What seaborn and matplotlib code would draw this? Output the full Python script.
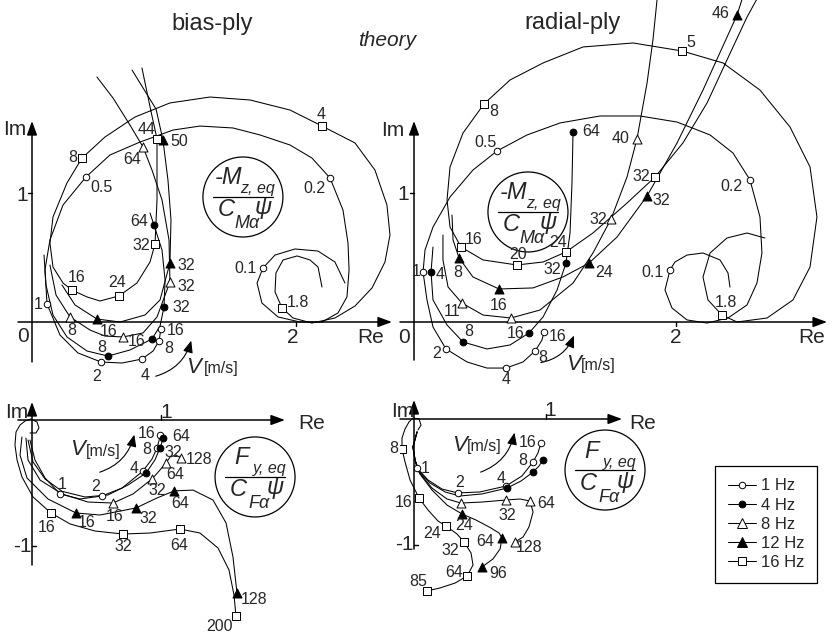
import matplotlib
matplotlib.use("Agg")
import matplotlib.pyplot as plt
import pandas as pd
import seaborn as sns
from matplotlib.lines import Line2D
from matplotlib.patches import Ellipse, FancyArrowPatch

sns.set_style("white")
plt.rcParams["font.family"] = ["Liberation Sans", "DejaVu Sans"]

# ---------------------------------------------------------------------------
# Frequency-response loci (Re, Im, speed label V in m/s; '' = plain path point)
# ---------------------------------------------------------------------------
FREQS = ["1 Hz", "4 Hz", "8 Hz", "12 Hz", "16 Hz"]

# bias-ply, aligning moment
TL_1HZ = [(2.371, 0.302, ""), (2.295, 0.465, ""), (2.167, 0.550, ""), (1.992, 0.566, ""),
          (1.841, 0.519, ""), (1.750, 0.419, "0.1"), (1.705, 0.302, ""), (1.742, 0.147, ""),
          (1.864, 0.039, ""), (2.030, 0.000, ""), (2.197, 0.000, ""), (2.318, 0.070, ""),
          (2.386, 0.194, ""), (2.402, 0.403, ""), (2.394, 0.612, ""), (2.356, 0.868, ""),
          (2.258, 1.116, "0.2"), (2.121, 1.271, ""), (1.955, 1.372, ""), (1.727, 1.450, ""),
          (1.523, 1.504, ""), (1.273, 1.519, ""), (1.068, 1.488, ""), (0.818, 1.395, ""),
          (0.591, 1.295, ""), (0.409, 1.124, "0.5"), (0.235, 0.907, ""), (0.136, 0.636, ""),
          (0.098, 0.403, ""), (0.114, 0.140, "1"), (0.212, -0.101, ""), (0.348, -0.240, ""),
          (0.523, -0.310, "2"), (0.682, -0.318, ""), (0.833, -0.287, "4"), (0.917, -0.225, ""),
          (0.962, -0.147, "8"), (0.977, -0.054, "16")]
TL_4HZ = [(0.091, 0.519, ""), (0.106, 0.287, ""), (0.159, 0.054, ""), (0.265, -0.116, ""),
          (0.417, -0.225, ""), (0.576, -0.264, "8"), (0.742, -0.217, ""), (0.909, -0.132, "16"),
          (0.970, -0.031, ""), (1.000, 0.116, "32"), (1.008, 0.326, ""), (0.985, 0.558, ""),
          (0.924, 0.752, "64"), (0.894, 0.845, "")]
TL_8HZ = [(0.136, 0.442, ""), (0.182, 0.209, ""), (0.288, 0.039, "8"), (0.439, -0.062, ""),
          (0.553, -0.109, ""), (0.689, -0.116, "16"), (0.841, -0.085, ""), (0.947, 0.039, ""),
          (1.045, 0.310, "32"), (1.038, 0.636, ""), (0.985, 0.946, ""), (0.909, 1.178, ""),
          (0.841, 1.357, "64"), (0.742, 1.527, ""), (0.614, 1.736, ""), (0.492, 1.899, "")]
TL_12HZ = [(0.227, 0.287, ""), (0.326, 0.132, ""), (0.492, 0.023, "16"), (0.667, 0.000, ""),
           (0.856, 0.054, ""), (0.970, 0.171, ""), (1.045, 0.457, "32"), (1.053, 0.791, ""),
           (1.030, 1.101, ""), (0.992, 1.411, "50"), (0.940, 1.650, ""), (0.758, 1.953, "")]
TL_16HZ = [(2.197, 0.271, ""), (2.167, 0.426, ""), (2.106, 0.481, ""), (2.008, 0.512, ""),
           (1.902, 0.481, ""), (1.848, 0.380, ""), (1.841, 0.233, ""), (1.894, 0.109, "1.8"),
           (1.977, 0.031, ""), (2.121, -0.008, ""), (2.295, 0.031, ""), (2.447, 0.124, ""),
           (2.576, 0.264, ""), (2.674, 0.465, ""), (2.712, 0.674, ""), (2.689, 0.907, ""),
           (2.598, 1.178, ""), (2.447, 1.388, ""), (2.197, 1.519, "4"), (1.955, 1.643, ""),
           (1.652, 1.721, ""), (1.348, 1.744, ""), (1.045, 1.698, ""), (0.780, 1.589, ""),
           (0.553, 1.434, ""), (0.379, 1.271, "8"), (0.265, 1.078, ""), (0.159, 0.814, ""),
           (0.136, 0.612, ""), (0.159, 0.426, ""), (0.235, 0.302, ""), (0.303, 0.248, "16"),
           (0.417, 0.194, ""), (0.515, 0.163, ""), (0.659, 0.202, "24"), (0.795, 0.302, ""),
           (0.894, 0.465, ""), (0.932, 0.605, "32"), (0.947, 0.946, ""), (0.947, 1.217, ""),
           (0.947, 1.419, "44"), (0.900, 1.640, ""), (0.833, 1.969, "")]

# radial-ply, aligning moment
TR_1HZ = [(2.412, 0.271, ""), (2.397, 0.380, ""), (2.336, 0.481, ""), (2.206, 0.535, ""),
          (2.084, 0.519, ""), (1.992, 0.465, ""), (1.954, 0.403, "0.1"), (1.916, 0.248, ""),
          (1.969, 0.109, ""), (2.084, 0.016, ""), (2.237, -0.008, ""), (2.397, 0.031, ""),
          (2.542, 0.132, ""), (2.618, 0.302, ""), (2.656, 0.535, ""), (2.641, 0.814, ""),
          (2.565, 1.101, "0.2"), (2.435, 1.310, ""), (2.260, 1.450, ""), (2.008, 1.550, ""),
          (1.725, 1.597, ""), (1.420, 1.597, ""), (1.115, 1.543, ""), (0.863, 1.450, ""),
          (0.634, 1.326, "0.5"), (0.450, 1.178, ""), (0.275, 0.969, ""), (0.145, 0.736, ""),
          (0.084, 0.558, ""), (0.069, 0.388, "1"), (0.099, 0.171, ""), (0.145, -0.039, ""),
          (0.244, -0.209, "2"), (0.405, -0.310, ""), (0.557, -0.357, ""), (0.702, -0.357, "4"),
          (0.832, -0.310, ""), (0.924, -0.225, "8"), (0.977, -0.140, ""), (0.992, -0.078, "16")]
TR_4HZ = [(0.145, 0.581, ""), (0.130, 0.388, "4"), (0.145, 0.171, ""), (0.252, -0.023, ""),
          (0.374, -0.155, "8"), (0.557, -0.209, ""), (0.733, -0.178, ""), (0.878, -0.085, "16"),
          (0.985, 0.039, ""), (1.092, 0.248, ""), (1.160, 0.457, "32"), (1.191, 0.690, ""),
          (1.206, 1.078, ""), (1.214, 1.473, "64")]
TR_8HZ = [(0.221, 0.674, ""), (0.221, 0.481, ""), (0.260, 0.271, ""), (0.366, 0.147, "11"),
          (0.527, 0.054, ""), (0.740, 0.031, "16"), (0.962, 0.093, ""), (1.214, 0.302, ""),
          (1.366, 0.535, ""), (1.504, 0.798, "32"), (1.626, 1.124, ""), (1.702, 1.419, "40"),
          (1.779, 1.853, ""), (1.824, 2.186, ""), (1.863, 2.574, "")]
TR_12HZ = [(0.290, 0.829, ""), (0.298, 0.636, ""), (0.344, 0.496, "8"), (0.450, 0.349, ""),
           (0.649, 0.256, "16"), (0.908, 0.264, ""), (1.137, 0.349, ""), (1.336, 0.457, "24"),
           (1.550, 0.659, ""), (1.779, 0.977, "32"), (2.008, 1.388, ""), (2.206, 1.798, ""),
           (2.466, 2.380, "46"), (2.527, 2.574, "")]
TR_16HZ = [(2.679, 0.651, ""), (2.542, 0.690, ""), (2.389, 0.651, ""), (2.260, 0.535, ""),
           (2.206, 0.349, ""), (2.244, 0.171, ""), (2.351, 0.054, "1.8"), (2.466, 0.000, ""),
           (2.695, 0.031, ""), (2.893, 0.171, ""), (3.023, 0.426, ""), (3.076, 0.814, ""),
           (3.023, 1.202, ""), (2.870, 1.512, ""), (2.641, 1.798, ""), (2.359, 2.008, ""),
           (2.046, 2.101, "5"), (1.672, 2.163, ""), (1.290, 2.132, ""), (0.985, 2.008, ""),
           (0.733, 1.876, ""), (0.534, 1.690, "8"), (0.374, 1.465, ""), (0.275, 1.202, ""),
           (0.252, 0.946, ""), (0.275, 0.736, ""), (0.359, 0.581, "16"), (0.527, 0.481, ""),
           (0.786, 0.442, "20"), (0.985, 0.465, ""), (1.160, 0.543, "24"), (1.366, 0.690, ""),
           (1.626, 0.922, ""), (1.840, 1.124, "32"), (2.053, 1.388, ""), (2.237, 1.698, ""),
           (2.389, 2.031, ""), (2.542, 2.364, ""), (2.656, 2.574, "")]

# bias-ply, side force
BL_1HZ = [(-0.016, -0.159, ""), (0.023, -0.317, ""), (0.101, -0.460, ""), (0.217, -0.587, "1"),
          (0.372, -0.627, ""), (0.543, -0.603, "2"), (0.698, -0.540, ""), (0.860, -0.405, "4"),
          (0.930, -0.310, ""), (0.969, -0.222, "8"), (0.984, -0.167, ""), (0.992, -0.119, "16")]
BL_4HZ = [(-0.031, -0.159, ""), (0.008, -0.333, ""), (0.101, -0.468, ""), (0.233, -0.566, ""),
          (0.411, -0.611, ""), (0.589, -0.595, ""), (0.744, -0.516, ""), (0.884, -0.421, "16"),
          (0.953, -0.317, ""), (0.992, -0.222, "32"), (1.008, -0.175, ""), (1.016, -0.143, "64")]
BL_8HZ = [(-0.047, -0.143, ""), (-0.031, -0.317, ""), (0.062, -0.476, ""), (0.233, -0.587, ""),
          (0.434, -0.651, ""), (0.628, -0.659, "16"), (0.783, -0.587, ""), (0.930, -0.468, "32"),
          (0.992, -0.397, ""), (1.039, -0.341, "64"), (1.070, -0.294, ""), (1.116, -0.278, ""),
          (1.155, -0.302, "128")]
BL_12HZ = [(-0.078, -0.135, ""), (-0.093, -0.278, ""), (-0.039, -0.460, ""), (0.124, -0.627, ""),
           (0.341, -0.738, "16"), (0.527, -0.754, ""), (0.806, -0.698, "32"), (0.969, -0.619, ""),
           (1.101, -0.563, "64"), (1.248, -0.556, ""), (1.403, -0.635, ""), (1.504, -0.817, ""),
           (1.558, -1.087, ""), (1.589, -1.373, "128")]
BL_16HZ = [(-0.016, -0.103, ""), (0.031, -0.103, ""), (0.054, -0.063, ""), (0.039, -0.016, ""),
           (-0.008, 0.008, ""), (-0.054, -0.008, ""), (-0.093, -0.040, ""), (-0.124, -0.095, ""),
           (-0.132, -0.198, ""), (-0.116, -0.317, ""), (-0.078, -0.452, ""), (0.008, -0.611, ""),
           (0.147, -0.738, "16"), (0.295, -0.825, ""), (0.488, -0.881, ""), (0.705, -0.905, "32"),
           (0.915, -0.897, ""), (1.147, -0.865, "64"), (1.302, -0.897, ""), (1.442, -1.016, ""),
           (1.527, -1.190, ""), (1.566, -1.389, ""), (1.581, -1.556, "200")]

# radial-ply, side force
BR_1HZ = [(0.023, -0.103, ""), (-0.008, -0.222, ""), (0.008, -0.325, ""), (0.023, -0.389, "1"),
          (0.106, -0.484, ""), (0.212, -0.556, ""), (0.333, -0.587, "2"), (0.500, -0.579, ""),
          (0.697, -0.532, "4"), (0.818, -0.452, ""), (0.902, -0.341, "8"), (0.939, -0.270, ""),
          (0.962, -0.190, "16")]
BR_4HZ = [(0.023, -0.103, ""), (-0.008, -0.222, ""), (0.008, -0.325, ""), (0.030, -0.405, ""),
          (0.121, -0.508, ""), (0.235, -0.579, ""), (0.348, -0.611, ""), (0.515, -0.595, ""),
          (0.705, -0.548, "16"), (0.811, -0.492, ""), (0.902, -0.421, "32"), (0.947, -0.373, ""),
          (0.977, -0.325, "64")]
BR_8HZ = [(0.023, -0.103, ""), (-0.008, -0.222, ""), (0.008, -0.325, ""), (0.038, -0.421, ""),
          (0.136, -0.548, ""), (0.250, -0.635, ""), (0.356, -0.667, "16"), (0.515, -0.659, ""),
          (0.697, -0.643, "32"), (0.803, -0.635, ""), (0.879, -0.651, "64"), (0.902, -0.738, ""),
          (0.871, -0.857, ""), (0.826, -0.937, ""), (0.765, -0.976, "128")]
BR_12HZ = [(0.023, -0.103, ""), (-0.008, -0.222, ""), (0.008, -0.325, ""), (0.045, -0.437, ""),
           (0.136, -0.563, ""), (0.250, -0.683, ""), (0.364, -0.754, "24"), (0.470, -0.802, ""),
           (0.583, -0.865, ""), (0.644, -0.905, ""), (0.667, -0.944, "64"), (0.652, -1.032, ""),
           (0.598, -1.111, ""), (0.515, -1.175, "96")]
BR_16HZ = [(0.030, -0.087, ""), (0.053, -0.048, ""), (0.038, 0.000, ""), (-0.008, 0.008, ""),
           (-0.038, -0.024, ""), (-0.068, -0.079, ""), (-0.091, -0.151, ""), (-0.091, -0.238, "8"),
           (-0.068, -0.341, ""), (-0.030, -0.484, ""), (0.038, -0.627, "16"), (0.106, -0.722, ""),
           (0.182, -0.810, ""), (0.242, -0.849, "24"), (0.326, -0.913, ""), (0.379, -0.976, "32"),
           (0.432, -1.063, ""), (0.447, -1.159, ""), (0.402, -1.246, "64"), (0.311, -1.302, ""),
           (0.197, -1.341, ""), (0.098, -1.365, "85")]

PANELS = {
    "TL": dict(zip(FREQS, [TL_1HZ, TL_4HZ, TL_8HZ, TL_12HZ, TL_16HZ])),
    "TR": dict(zip(FREQS, [TR_1HZ, TR_4HZ, TR_8HZ, TR_12HZ, TR_16HZ])),
    "BL": dict(zip(FREQS, [BL_1HZ, BL_4HZ, BL_8HZ, BL_12HZ, BL_16HZ])),
    "BR": dict(zip(FREQS, [BR_1HZ, BR_4HZ, BR_8HZ, BR_12HZ, BR_16HZ])),
}

# speed-label placement (pixel offset from its marker: right, up)
LABEL_OFFSETS = {
    "TL": {
        "1 Hz": {"0.1": (-17, -1), "0.2": (-16, -10), "0.5": (16, -10), "1": (-9, -1),
                 "2": (-4, -15), "4": (3, -16), "8": (10, -8), "16": (15, -2)},
        "4 Hz": {"8": (-6, 9), "16": (-15, -2), "32": (17, 0), "64": (-15, 3)},
        "8 Hz": {"8": (2, -14), "32": (16, -4), "64": (-11, -13)},
        "12 Hz": {"16": (12, -12), "32": (16, -2), "50": (16, -2)},
        "16 Hz": {"1.8": (16, 5), "4": (-1, 12), "8": (-9, 1), "16": (5, 13), "24": (-2, 13),
                  "32": (-14, -2), "44": (-10, 9)},
    },
    "TR": {
        "1 Hz": {"0.1": (-17, -2), "0.2": (-19, -7), "0.5": (-12, 8), "1": (-7, 0),
                 "2": (-9, -5), "4": (0, -11), "8": (8, -6), "16": (14, -4)},
        "4 Hz": {"4": (9, -3), "8": (6, 10), "16": (-13, -1), "32": (-14, -6), "64": (18, 0)},
        "8 Hz": {"11": (-10, -8), "16": (-12, 13), "32": (-13, 0), "40": (-16, 0)},
        "12 Hz": {"8": (-1, -14), "24": (15, -9), "32": (14, -5), "46": (-16, 1)},
        "16 Hz": {"1.8": (4, 13), "5": (9, 8), "8": (10, -8), "16": (13, 8), "20": (1, 10),
                  "24": (-8, 9), "32": (-14, 1)},
    },
    "BL": {
        "1 Hz": {"1": (2, 9), "2": (-6, 9), "4": (-9, 3), "8": (-10, -2), "16": (-13, 1)},
        "4 Hz": {"32": (13, -5), "64": (18, 2)},
        "8 Hz": {"16": (2, -13), "32": (5, -12), "64": (9, -12), "128": (18, -1)},
        "12 Hz": {"16": (11, -10), "32": (12, -11), "64": (6, -13), "128": (17, -6)},
        "16 Hz": {"16": (-4, -15), "32": (0, -12), "64": (-1, -17), "200": (-16, -10)},
    },
    "BR": {
        "1 Hz": {"1": (8, 0), "2": (2, 10), "4": (-5, 8), "8": (-10, 1), "16": (-13, 0)},
        "4 Hz": {},
        "8 Hz": {"32": (1, -15), "64": (16, -2), "128": (14, -6)},
        "12 Hz": {"24": (2, -12), "64": (-17, -4), "96": (16, -6)},
        "16 Hz": {"8": (-8, 0), "16": (-15, -5), "24": (-14, -8), "32": (-14, -9),
                  "64": (-13, 3), "85": (-9, 9)},
    },
}

# marker shape, face colour, area
MARKERS = {"1 Hz": ("o", "white", 22), "4 Hz": ("o", "black", 24), "8 Hz": ("^", "white", 42),
           "12 Hz": ("^", "black", 42), "16 Hz": ("s", "white", 26)}

# ---------------------------------------------------------------------------
W, H, DPI = 834, 637, 100
fig = plt.figure(figsize=(W / DPI, H / DPI), dpi=DPI)
fig.patch.set_facecolor("white")

LAYOUT = {  # pixel box (x0, y0, x1, y1) and data limits
    "TL": ((0, 0, 400, 380), (-0.2424, 2.7879), (-0.4496, 2.4961)),
    "TR": ((400, 0, 834, 380), (-0.1069, 3.2061), (-0.4496, 2.4961)),
    "BL": ((0, 380, 400, 637), (-0.2481, 2.8527), (-1.7222, 0.3175)),
    "BR": ((400, 380, 834, 637), (-0.1061, 3.1818), (-1.7302, 0.3095)),
}

LW = 0.75
TXT = 11.5
AX_FS = 15


def make_axes(name):
    (x0, y0, x1, y1), xl, yl = LAYOUT[name]
    ax = fig.add_axes([x0 / W, 1 - y1 / H, (x1 - x0) / W, (y1 - y0) / H])
    ax.set_xlim(*xl)
    ax.set_ylim(*yl)
    ax.axis("off")
    ppx = (xl[1] - xl[0]) / (x1 - x0)
    ppy = (yl[1] - yl[0]) / (y1 - y0)
    return ax, ppx, ppy


def draw_loci(ax, name):
    for freq in FREQS:
        df = pd.DataFrame(PANELS[name][freq], columns=["re", "im", "v"])
        sns.lineplot(data=df, x="re", y="im", sort=False, estimator=None, color="black",
                     lw=LW, ax=ax, zorder=2)
        marks = df[df["v"] != ""]
        m, fc, s = MARKERS[freq]
        sns.scatterplot(data=marks, x="re", y="im", marker=m, s=s, color=fc,
                        edgecolor="black", linewidth=0.7, ax=ax, zorder=3)
        offs = LABEL_OFFSETS[name][freq]
        for _, r in marks.iterrows():
            if r["v"] in offs:
                ax.annotate(r["v"], (r["re"], r["im"]), xytext=offs[r["v"]],
                            textcoords="offset pixels", ha="center", va="center",
                            fontsize=TXT, zorder=4)
    ax.set_xlabel("")
    ax.set_ylabel("")


def axis_arrows(ax, xr, yr):
    style = dict(arrowstyle="-|>,head_length=0.6,head_width=0.22", color="black", lw=1.1,
                 shrinkA=0, shrinkB=0, mutation_scale=14)
    ax.annotate("", xy=(xr[1], 0), xytext=(xr[0], 0), arrowprops=style, zorder=1)
    ax.annotate("", xy=(0, yr[1]), xytext=(0, yr[0]), arrowprops=style, zorder=1)


def tick(ax, x, y, dx, dy):
    ax.plot([x, x + dx], [y, y + dy], color="black", lw=1.0, zorder=1)


def formula(ax, cx, cy, ppx, ppy, top, sub_top, sub_bot):
    ax.add_patch(Ellipse((cx, cy), 80 * ppx, 80 * ppy, fill=False, lw=0.9, ec="black", zorder=2))
    ax.plot([cx - 30 * ppx, cx + 30 * ppx], [cy, cy], color="black", lw=0.9)
    kw = dict(textcoords="offset pixels", ha="center", va="center", style="italic")
    ax.annotate(top, (cx, cy), xytext=(-14, 19), fontsize=17, **kw)
    ax.annotate(sub_top, (cx, cy), xytext=(15, 8), fontsize=11.5, **kw)
    ax.annotate("C", (cx, cy), xytext=(-17, -13), fontsize=17, **kw)
    ax.annotate("\u03c8", (cx, cy), xytext=(20, -11), fontsize=17, **kw)
    ax.annotate(sub_bot, (cx, cy), xytext=(4, -27), fontsize=13, **kw)


def speed_arrow(ax, start, end, vpos, upos):
    ax.add_patch(FancyArrowPatch(start, end, connectionstyle="arc3,rad=0.3",
                                 arrowstyle="-|>,head_length=0.6,head_width=0.25",
                                 mutation_scale=12, lw=0.8, color="black"))
    ax.text(*vpos, "V", style="italic", fontsize=16, ha="center", va="center")
    ax.text(*upos, "[m/s]", fontsize=11.5, ha="center", va="center")


# --- bias-ply, aligning moment
ax, px, py = make_axes("TL")
axis_arrows(ax, (-0.106, 2.727), (-0.310, 1.558))
tick(ax, 2, 0, 0, -4 * py)
tick(ax, 0, 1, -4 * px, 0)
draw_loci(ax, "TL")
formula(ax, 1.598, 0.969, px, py, "-M", "z, eq", "M\u03b1")
speed_arrow(ax, (0.917, -0.426), (1.212, -0.124), (1.227, -0.349), (1.430, -0.357))
for s, x, y in [("Im", -0.129, 1.496), ("1", -0.076, 0.977), ("0", -0.068, -0.116),
                ("2", 1.977, -0.124), ("Re", 2.568, -0.124)]:
    ax.text(x, y, s, fontsize=AX_FS, ha="center", va="center")
ax.set_xlim(*LAYOUT["TL"][1]); ax.set_ylim(*LAYOUT["TL"][2])

# --- radial-ply, aligning moment
ax, px, py = make_axes("TR")
axis_arrows(ax, (-0.107, 3.153), (-0.295, 1.558))
tick(ax, 2, 0, 0, -4 * py)
tick(ax, 0, 1, -4 * px, 0)
draw_loci(ax, "TR")
formula(ax, 0.870, 0.853, px, py, "-M", "z, eq", "M\u03b1")
speed_arrow(ax, (0.947, -0.318), (1.229, -0.085), (1.214, -0.333), (1.410, -0.341))
for s, x, y in [("Im", -0.160, 1.481), ("1", -0.084, 0.992), ("0", -0.076, -0.124),
                ("2", 2.0, -0.124), ("Re", 3.038, -0.124)]:
    ax.text(x, y, s, fontsize=AX_FS, ha="center", va="center")
ax.set_xlim(*LAYOUT["TR"][1]); ax.set_ylim(*LAYOUT["TR"][2])

# --- bias-ply, side force
ax, px, py = make_axes("BL")
axis_arrows(ax, (-0.109, 1.961), (-1.151, 0.143))
tick(ax, 1, 0, 0, 5 * py)
tick(ax, 0, -1, 4 * px, 0)
draw_loci(ax, "BL")
formula(ax, 1.729, -0.452, px, py, "F", "y, eq", "F\u03b1")
speed_arrow(ax, (0.504, -0.421), (0.798, -0.095), (0.349, -0.238), (0.550, -0.246))
for s, x, y in [("Im", -0.116, 0.056), ("1", 1.039, 0.063), ("-1", -0.078, -1.0),
                ("Re", 2.171, -0.024)]:
    ax.text(x, y, s, fontsize=AX_FS, ha="center", va="center")
ax.set_xlim(*LAYOUT["BL"][1]); ax.set_ylim(*LAYOUT["BL"][2])

# --- radial-ply, side force
ax, px, py = make_axes("BR")
axis_arrows(ax, (-0.106, 1.576), (-1.032, 0.151))
tick(ax, 1, 0, 0, 5 * py)
tick(ax, 0, -1, 4 * px, 0)
draw_loci(ax, "BR")
formula(ax, 1.447, -0.405, px, py, "F", "y, eq", "F\u03b1")
speed_arrow(ax, (0.485, -0.429), (0.765, -0.087), (0.341, -0.214), (0.530, -0.222))
for s, x, y in [("Im", -0.083, 0.063), ("1", 1.030, 0.071), ("-1", -0.076, -1.0),
                ("Re", 1.735, -0.032)]:
    ax.text(x, y, s, fontsize=AX_FS, ha="center", va="center")
ax.set_xlim(*LAYOUT["BR"][1]); ax.set_ylim(*LAYOUT["BR"][2])

# --- titles
fig.text(212 / W, 1 - 24 / H, "bias-ply", fontsize=17, ha="center", va="center")
fig.text(572 / W, 1 - 23 / H, "radial-ply", fontsize=17, ha="center", va="center")
fig.text(387 / W, 1 - 41 / H, "theory", fontsize=15, style="italic", ha="center", va="center")

# --- legend
handles = []
for freq in FREQS:
    m, fc, s = MARKERS[freq]
    handles.append(Line2D([0], [0], color="black", lw=LW, marker=m, mfc=fc, mec="black",
                          ms=s ** 0.5, mew=0.7))
leg = fig.legend(handles, FREQS, loc="upper left", bbox_to_anchor=(715 / W, 1 - 466 / H),
                 frameon=True, fancybox=False, edgecolor="black", fontsize=12,
                 handlelength=1.7, handletextpad=0.3, labelspacing=0.25, borderpad=0.75,
                 borderaxespad=0, framealpha=1)
leg.get_frame().set_linewidth(0.9)

fig.savefig("out.png", dpi=DPI, facecolor="white")
